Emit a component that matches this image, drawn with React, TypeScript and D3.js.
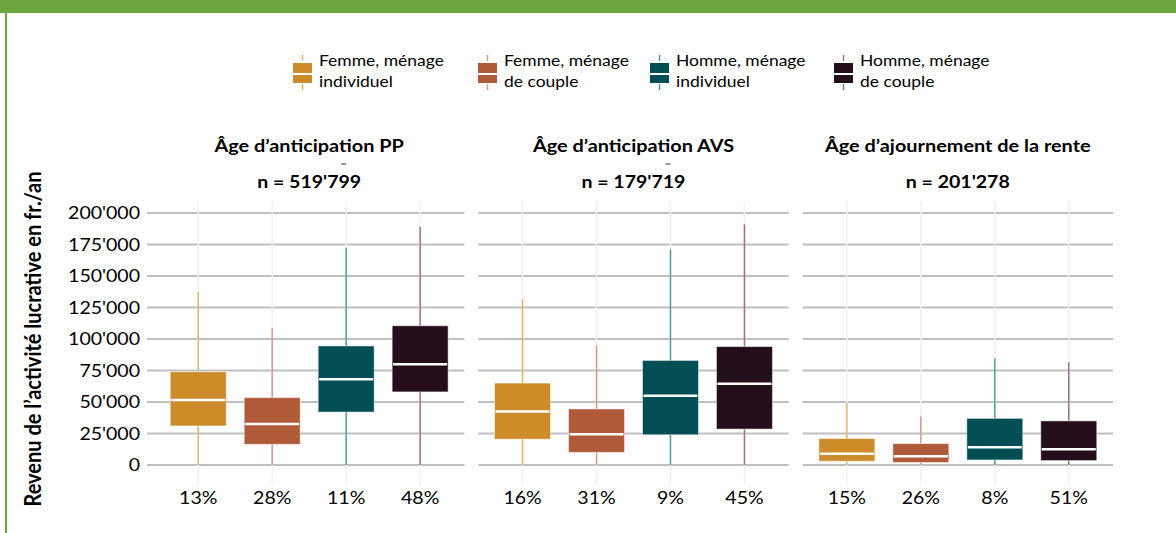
import React from 'react';
import * as d3 from 'd3';

// data
const panels = ['Âge d’anticipation PP', 'Âge d’anticipation AVS', 'Âge d’ajournement de la rente'];
const panelN = ["n = 519'799", "n = 179'719", "n = 201'278"];
const groups = ['fi', 'fc', 'hi', 'hc'];
const groupLabels = [
  ['Femme, ménage', 'individuel'],
  ['Femme, ménage', 'de couple'],
  ['Homme, ménage', 'individuel'],
  ['Homme, ménage', 'de couple'],
];
const shares = [
  ['13%', '28%', '11%', '48%'],
  ['16%', '31%', '9%', '45%'],
  ['15%', '26%', '8%', '51%'],
];
const whiskerHigh = [
  [137500, 108500, 172500, 189000],
  [131500, 95000, 171000, 191000],
  [49000, 38500, 84500, 81500],
];
const q3 = [
  [74000, 53500, 94500, 110500],
  [65000, 44500, 83000, 94000],
  [21000, 17000, 37000, 35000],
];
const median = [
  [51500, 32500, 68000, 80000],
  [42500, 24500, 55000, 64500],
  [9000, 7000, 14000, 12500],
];
const q1 = [
  [31000, 16400, 42000, 58000],
  [20500, 10000, 24000, 28500],
  [3000, 2000, 4000, 3500],
];
const whiskerLow = [
  [0, 0, 0, 0],
  [0, 0, 0, 0],
  [0, 0, 0, 0],
];
const yTicks = [0, 25000, 50000, 75000, 100000, 125000, 150000, 175000, 200000];

const boxColors = ['#cd8b2a', '#b05a3a', '#014f55', '#240e1b'];
const whiskerColors = ['#e6b461', '#d69a8b', '#4e9da1', '#9b6d91'];

const W = 1176;
const H = 533;
const SX = 1.15; // the reference text is horizontally stretched
const FONT = 'Lato, "Open Sans", sans-serif';
const legendX = [293, 478, 650, 834];

const fmt = d3.formatLocale({ decimal: '.', thousands: "'", grouping: [3], currency: ['', ''] }).format(',');

const T = ({ x, y, anchor = 'start', size = 16, bold = false, children }: any) => (
  <text
    transform={`translate(${x},${y}) scale(${SX},1)`}
    textAnchor={anchor}
    fontSize={size}
    fontWeight={bold ? 700 : 400}
    fontFamily={FONT}
    fill="#000"
  >
    {children}
  </text>
);

export default function App() {
  const y = d3.scaleLinear().domain([0, 200000]).range([465, 213]);
  const px = d3.scaleBand().domain(panels).range([154, 1113]).paddingInner(0.043);
  const boxW = 56;

  return (
    <svg width={W} height={H} style={{ position: 'absolute', left: 0, top: 0, background: '#fff' }}>
      {/* frame */}
      <rect x={0} y={0} width={W} height={13} fill="#6ca643" />
      <rect x={5} y={0} width={2} height={H} fill="#6ca643" />

      {/* legend */}
      {groups.map((g, i) => {
        const lx = legendX[i];
        const cx = lx + 9.5;
        return (
          <g key={g}>
            <line x1={cx} x2={cx} y1={55} y2={61} stroke={whiskerColors[i]} strokeWidth={1.5} />
            <line x1={cx} x2={cx} y1={84} y2={90} stroke={whiskerColors[i]} strokeWidth={1.5} />
            <rect x={lx} y={63} width={19} height={10} fill={boxColors[i]} />
            <rect x={lx} y={75} width={19} height={8} fill={boxColors[i]} />
            <T x={lx + 26} y={66} size={15.2}>{groupLabels[i][0]}</T>
            <T x={lx + 26} y={87} size={15.2}>{groupLabels[i][1]}</T>
          </g>
        );
      })}

      {/* y axis title */}
      <text
        transform={`translate(41,339) scale(${SX},1) rotate(-90)`}
        textAnchor="middle"
        fontSize={20}
        fontWeight={700}
        fontFamily={FONT}
        fill="#000"
      >
        Revenu de l’activité lucrative en fr./an
      </text>

      {/* y tick labels */}
      {yTicks.map(t => (
        <T key={t} x={140} y={y(t) + 6} anchor="end" size={17}>{fmt(t)}</T>
      ))}

      {panels.map((p, pi) => {
        const x0 = px(p) as number;
        const bw = px.bandwidth();
        const x = d3.scalePoint().domain(groups).range([x0, x0 + bw]).padding(0.598);
        const gl = pi === 0 ? x0 - 7 : x0;
        const cxMid = x0 + bw / 2;
        return (
          <g key={p}>
            <T x={cxMid} y={152} anchor="middle" size={17.3} bold>{p}</T>
            <T x={cxMid} y={188} anchor="middle" size={17} bold>{panelN[pi]}</T>
            {pi < 2 && (
              <line x1={cxMid + 32} x2={cxMid + 37} y1={164} y2={164} stroke="#333" strokeWidth={1} />
            )}

            {yTicks.map(t => (
              <line key={t} x1={gl} x2={x0 + bw} y1={y(t)} y2={y(t)} stroke="#bfbfbf" strokeWidth={2} />
            ))}
            {groups.map(g => (
              <line key={g} x1={x(g)} x2={x(g)} y1={201} y2={485} stroke="#f1f1f1" strokeWidth={1.5} />
            ))}

            {groups.map((g, gi) => {
              const cx = x(g) as number;
              return (
                <g key={g}>
                  <line
                    x1={cx} x2={cx}
                    y1={y(whiskerLow[pi][gi])} y2={y(whiskerHigh[pi][gi])}
                    stroke={whiskerColors[gi]} strokeWidth={1.5}
                  />
                  <rect
                    x={cx - boxW / 2}
                    y={y(q3[pi][gi])}
                    width={boxW}
                    height={y(q1[pi][gi]) - y(q3[pi][gi])}
                    fill={boxColors[gi]}
                    stroke="#fff"
                    strokeOpacity={0.5}
                    strokeWidth={1}
                  />
                  <line
                    x1={cx - boxW / 2 + 1} x2={cx + boxW / 2 - 1}
                    y1={y(median[pi][gi])} y2={y(median[pi][gi])}
                    stroke="#fff" strokeWidth={2.5}
                  />
                  <T x={cx} y={504} anchor="middle" size={17}>{shares[pi][gi]}</T>
                </g>
              );
            })}
          </g>
        );
      })}
    </svg>
  );
}
